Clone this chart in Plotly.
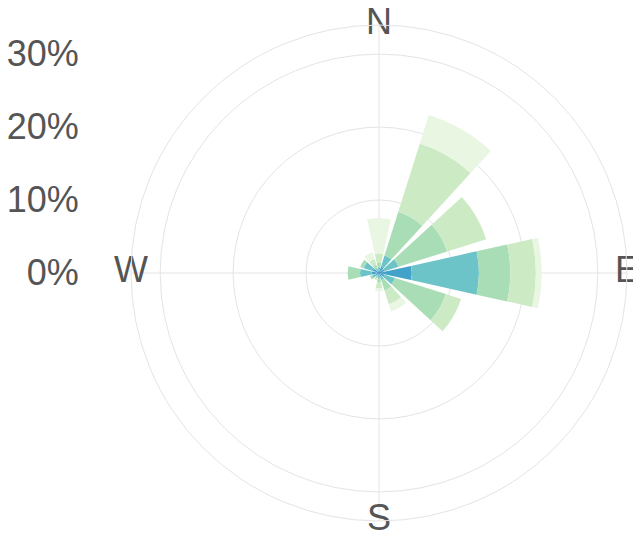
import plotly.graph_objects as go

# Wind directions (degrees) and speed-bin shares (%), stacked outward
directions = [0, 30, 60, 90, 120, 150, 180, 210, 240, 270, 300, 330]
bins = ["0-1", "1-2", "2-3", "3-4", "4-5", "5+"]
colors = ["#0868ac", "#43a2ca", "#6cc3c8", "#a8ddb5", "#ccebc5", "#e8f6e2"]

b1 = [0.2, 0.3, 0.3, 0.4, 0.2, 0.2, 0.2, 0.2, 0.2, 0.3, 0.3, 0.2]
b2 = [0.2, 0.6, 0.5, 4.1, 0.6, 0.3, 0.2, 0.2, 0.3, 0.7, 0.6, 0.2]
b3 = [0.4, 1.6, 2.0, 9.2, 1.5, 0.5, 0.3, 0.2, 0.5, 1.6, 1.3, 0.3]
b4 = [0.6, 6.3, 7.0, 4.3, 7.3, 1.5, 0.6, 0.2, 0.3, 1.7, 0.5, 0.5]
b5 = [1.3, 9.8, 5.6, 3.5, 2.2, 2.0, 0.8, 0.2, 0.0, 0.0, 0.0, 0.8]
b6 = [4.8, 4.1, 0.0, 0.8, 0.0, 1.0, 0.4, 0.0, 0.0, 0.0, 0.0, 1.0]
series = [b1, b2, b3, b4, b5, b6]

compass = ["N", "E", "S", "W"]
compass_deg = [0, 90, 180, 270]
r_max = 34
radial_ticks = [0, 10, 20, 30]
radial_text = ["0%", "10%", "20%", "30%"]

FONT = "Liberation Sans, Arial, sans-serif"
GRAY = "#555555"
GRID = "#e4e4e4"

fig = go.Figure()
for name, vals, col in zip(bins, series, colors):
    fig.add_trace(go.Barpolar(
        r=vals, theta=directions, name=name, width=25,
        marker=dict(color=col, line=dict(width=0)),
        showlegend=False,
    ))

fig.add_trace(go.Scatterpolar(
    r=[r_max] * len(compass), theta=compass_deg, text=compass,
    mode="text", textposition="middle center",
    textfont=dict(size=36, color=GRAY, family=FONT),
    cliponaxis=False, showlegend=False, hoverinfo="skip",
))

# invisible cartesian trace to host the left radial labels
fig.add_trace(go.Scatter(x=[None], y=[None], showlegend=False, hoverinfo="skip"))

fig.update_layout(
    width=641, height=544,
    margin=dict(l=0, r=0, t=0, b=0, autoexpand=False),
    paper_bgcolor="white", plot_bgcolor="white",
    font=dict(family=FONT, color=GRAY),
    barmode="stack",
    polar=dict(
        domain=dict(x=[123 / 641, 619 / 641], y=[31 / 544, 527 / 544]),
        bgcolor="white",
        radialaxis=dict(range=[0, r_max], tickvals=[10, 20, 30], showticklabels=False,
                        ticks="", showline=False, gridcolor=GRID, gridwidth=1),
        angularaxis=dict(direction="clockwise", rotation=90, tickvals=compass_deg,
                         showticklabels=False, ticks="", gridcolor=GRID,
                         linecolor=GRID, showline=True),
    ),
    xaxis=dict(domain=[0.112, 0.16], visible=False, range=[0, 1], automargin=False),
    yaxis=dict(domain=[32 / 544, 528 / 544], range=[-r_max, r_max], tickvals=radial_ticks,
               ticktext=radial_text, showgrid=False, zeroline=False, showline=False,
               automargin=False,
               ticks="", tickfont=dict(size=36, color=GRAY, family=FONT)),
)

fig.write_html("out.html")
